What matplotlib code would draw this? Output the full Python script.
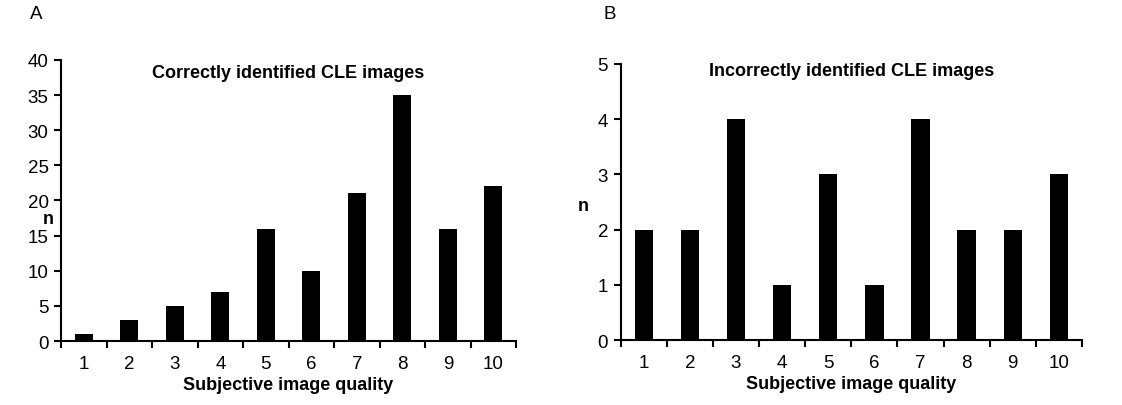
import matplotlib
matplotlib.use("Agg")
import matplotlib.pyplot as plt

plt.rcParams['font.family'] = ['Liberation Sans', 'DejaVu Sans']

quality = [1, 2, 3, 4, 5, 6, 7, 8, 9, 10]
correct_n = [1, 3, 5, 7, 16, 10, 21, 35, 16, 22]
incorrect_n = [2, 2, 4, 1, 3, 1, 4, 2, 2, 3]
titles = ["Correctly identified CLE images", "Incorrectly identified CLE images"]
panel_labels = ["A", "B"]
yticks_a = [0, 5, 10, 15, 20, 25, 30, 35, 40]
yticks_b = [0, 1, 2, 3, 4, 5]

fig = plt.figure(figsize=(11.22, 4.06), dpi=100)
axA = fig.add_axes([0.0544, 0.1576, 0.4056, 0.6922])
axB = fig.add_axes([0.5532, 0.160, 0.4111, 0.680])

def style(ax, vals, yticks, title, label, lx, nx, ny, ty):
    ax.bar(quality, vals, width=0.4, color='black')
    ax.set_xlim(0.5, 10.5)
    ax.set_ylim(0, yticks[-1])
    ax.set_yticks(yticks)
    ax.set_xticks(quality)
    ax.set_xticks([q + 0.5 for q in [0] + quality], minor=True)
    ax.tick_params(axis='x', which='major', length=0, pad=10, labelsize=13.5)
    ax.tick_params(axis='x', which='minor', length=5, width=1.5, direction='out')
    ax.tick_params(axis='y', length=5, width=1.5, direction='out', labelsize=13.5, pad=4)
    for s in ['top', 'right']:
        ax.spines[s].set_visible(False)
    for s in ['left', 'bottom']:
        ax.spines[s].set_linewidth(1.5)
    ax.set_xlabel("Subjective image quality", fontsize=13, fontweight='bold', labelpad=3)
    ax.text(0.5, ty, title, transform=ax.transAxes, ha='center', va='center',
            fontsize=13, fontweight='bold')
    ax.text(nx, ny, "n", transform=ax.transAxes, ha='center', va='baseline',
            fontsize=13, fontweight='bold')
    fig.text(lx, 0.965, label, ha='left', va='center', fontsize=13.5)

style(axA, correct_n, yticks_a, titles[0], panel_labels[0], 0.027, -0.027, 0.42, 0.955)
style(axB, incorrect_n, yticks_b, titles[1], panel_labels[1], 0.538, -0.082, 0.47, 0.975)

fig.savefig("out.png", dpi=100)
